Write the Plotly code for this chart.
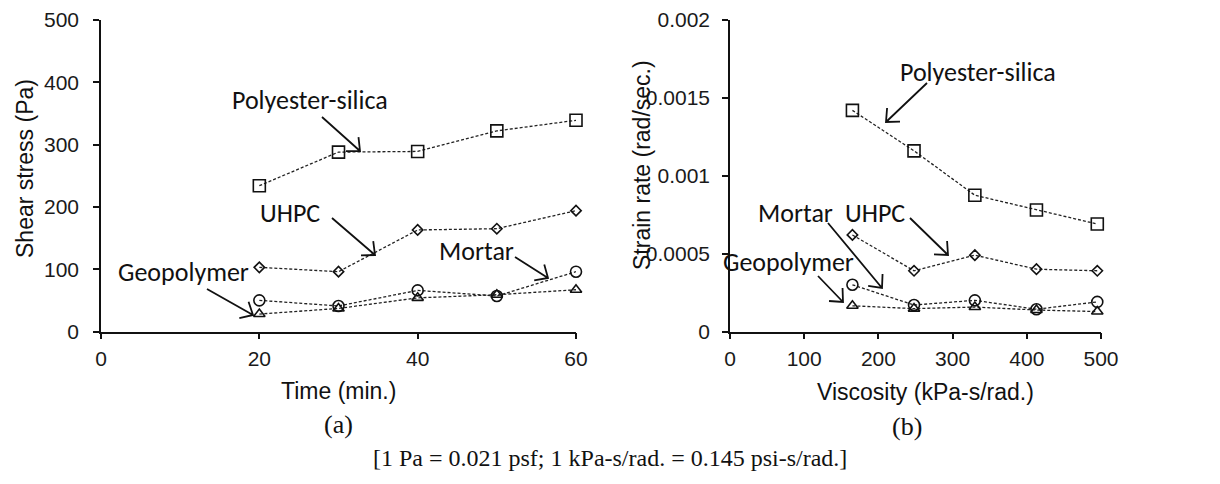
import math
import plotly.graph_objects as go

W, H = 1220, 484

# ---------------- data ----------------
time_min = [20, 30, 40, 50, 60]
shear_polyester = [234, 288, 289, 322, 339]
shear_uhpc = [103, 96, 163, 165, 194]
shear_mortar = [50, 41, 66, 57, 96]
shear_geopolymer = [28, 37, 54, 59, 67]

viscosity = [165, 248, 330, 413, 495]
rate_polyester = [0.00142, 0.00116, 0.000875, 0.00078, 0.00069]
rate_uhpc = [0.00062, 0.00039, 0.00049, 0.00040, 0.00039]
rate_mortar = [0.00030, 0.00017, 0.00020, 0.000143, 0.00019]
rate_geopolymer = [0.000165, 0.000147, 0.000157, 0.000138, 0.000128]

y2_tickvals = [0, 0.0005, 0.001, 0.0015, 0.002]
y2_ticktext = ["0", "0.0005", "0.001", "0.0015", "0.002"]

series_a = [
    ("Polyester-silica", shear_polyester, "square-open", 12),
    ("UHPC", shear_uhpc, "diamond-open", 8),
    ("Mortar", shear_mortar, "circle-open", 11),
    ("Geopolymer", shear_geopolymer, "triangle-up-open", 10),
]
series_b = [
    ("Polyester-silica", rate_polyester, "square-open", 12),
    ("UHPC", rate_uhpc, "diamond-open", 8),
    ("Mortar", rate_mortar, "circle-open", 11),
    ("Geopolymer", rate_geopolymer, "triangle-up-open", 10),
]

LINE = "#222222"
fig = go.Figure()
for name, ys, sym, sz in series_a:
    fig.add_trace(go.Scatter(
        x=time_min, y=ys, mode="lines+markers", name=name, xaxis="x", yaxis="y",
        line=dict(color=LINE, width=1.3, dash="3px,2px"),
        marker=dict(symbol=sym, size=sz, color="#111", line=dict(width=1.6, color="#111")),
        cliponaxis=False, showlegend=False))
for name, ys, sym, sz in series_b:
    fig.add_trace(go.Scatter(
        x=viscosity, y=ys, mode="lines+markers", name=name, xaxis="x2", yaxis="y2",
        line=dict(color=LINE, width=1.3, dash="3px,2px"),
        marker=dict(symbol=sym, size=sz, color="#111", line=dict(width=1.6, color="#111")),
        cliponaxis=False, showlegend=False))

def px(xpix):
    return xpix / W

def py(ypix):
    return 1 - ypix / H

SANS = "Arial"
LBL = "Carlito, Lato, sans-serif"
SERIF = "Liberation Serif, Times New Roman, serif"

tickfont = dict(family=SANS, size=21, color="#1a1a1a")
axis_common = dict(showgrid=False, zeroline=False, showline=True, linecolor="#111",
                   linewidth=1.5, ticks="outside", ticklen=6, tickwidth=1.5,
                   tickcolor="#111", tickfont=tickfont, automargin=False, fixedrange=True)

ydom = [py(331.5), py(20)]
fig.update_layout(
    width=W, height=H, margin=dict(l=0, r=0, t=0, b=0),
    paper_bgcolor="white", plot_bgcolor="white",
    xaxis=dict(domain=[px(101), px(576)], range=[0, 60], tickvals=[0, 20, 40, 60],
               anchor="y", ticklabelstandoff=2, **axis_common),
    yaxis=dict(domain=ydom, range=[0, 500], tickvals=[0, 100, 200, 300, 400, 500],
               anchor="x", ticklabelstandoff=10, **axis_common),
    xaxis2=dict(domain=[px(730), px(1101)], range=[0, 500],
                tickvals=[0, 100, 200, 300, 400, 500], anchor="y2",
                ticklabelstandoff=2, **axis_common),
    yaxis2=dict(domain=ydom, range=[0, 0.002], tickvals=y2_tickvals,
                ticktext=y2_ticktext, anchor="x2", ticklabelstandoff=8, **axis_common),
)

annots = []
def text(t, cx, cy, size, family, angle=0):
    annots.append(dict(text=t, x=px(cx), y=py(cy), xref="paper", yref="paper",
                       showarrow=False, xanchor="center", yanchor="middle",
                       textangle=angle,
                       font=dict(family=family, size=size, color="#111")))

text("Shear stress (Pa)", 25, 169, 23, SANS, -90)
text("Time (min.)", 338, 391, 23, SANS)
text("Strain rate (rad/sec.)", 642, 165, 23, SANS, -90)
text("Viscosity (kPa-s/rad.)", 925, 392, 23, SANS)
text("(a)", 338, 424, 26, SERIF)
text("(b)", 907, 426, 26, SERIF)
text("[1 Pa = 0.021 psf; 1 kPa-s/rad. = 0.145 psi-s/rad.]", 610, 458, 24, SERIF)

# material labels
text("Polyester-silica", 310, 100, 26, LBL)
text("UHPC", 290, 213, 26, LBL)
text("Geopolymer", 183, 272, 26, LBL)
text("Mortar", 476, 251, 26, LBL)
text("Polyester-silica", 978, 72, 26, LBL)
text("Mortar", 795, 213, 26, LBL)
text("UHPC", 875, 213, 26, LBL)
text("Geopolymer", 789, 262, 26, LBL)

fig.update_layout(annotations=annots)

# arrows (tail -> head, in pixel space of the page)
arrows = [
    ((322, 117), (360, 151)),
    ((332, 218), (375, 255)),
    ((207, 289), (253, 315)),
    ((515, 257), (548, 278)),
    ((927, 83), (886, 122)),
    ((828, 223), (882, 288)),
    ((910, 218), (948, 255)),
    ((818, 276), (843, 302)),
]
shapes = []
for (tx, ty), (hx, hy) in arrows:
    dx, dy = tx - hx, ty - hy
    L = math.hypot(dx, dy)
    ux, uy = dx / L, dy / L
    legs = []
    for a in (math.radians(42), math.radians(-42)):
        rx = ux * math.cos(a) - uy * math.sin(a)
        ry = ux * math.sin(a) + uy * math.cos(a)
        legs.append((hx + 14 * rx, hy + 14 * ry))
    path = (f"M {px(tx)} {py(ty)} L {px(hx)} {py(hy)} "
            f"M {px(legs[0][0])} {py(legs[0][1])} L {px(hx)} {py(hy)} "
            f"L {px(legs[1][0])} {py(legs[1][1])}")
    shapes.append(dict(type="path", path=path, xref="paper", yref="paper",
                       line=dict(color="#111", width=1.8)))
fig.update_layout(shapes=shapes)

fig.write_html("out.html")
